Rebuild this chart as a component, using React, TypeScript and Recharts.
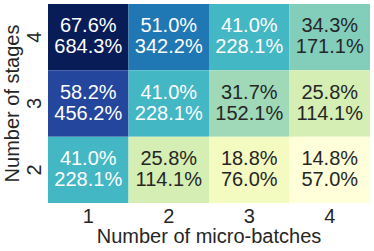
import { ReferenceArea, Scatter, ScatterChart, XAxis, YAxis } from "recharts";

// axes
const microBatches = [1, 2, 3, 4];
const stages = [4, 3, 2];

// rows follow `stages`, columns follow `microBatches`
const topValues = [
  [67.6, 51.0, 41.0, 34.3],
  [58.2, 41.0, 31.7, 25.8],
  [41.0, 25.8, 18.8, 14.8],
];
const bottomValues = [
  [684.3, 342.2, 228.1, 171.1],
  [456.2, 228.1, 152.1, 114.1],
  [228.1, 114.1, 76.0, 57.0],
];

// YlGnBu
const PALETTE = ["#ffffd9", "#edf8b1", "#c7e9b4", "#7fcdbb", "#41b6c4", "#1d91c0", "#225ea8", "#253494", "#081d58"];
const TEXT_DARK = "#262626";
const FONT = "'Liberation Sans', Arial, sans-serif";

function hexToRgb(h: string) {
  const n = parseInt(h.slice(1), 16);
  return [(n >> 16) & 255, (n >> 8) & 255, n & 255];
}

function colorFor(v: number, min: number, max: number) {
  const t = Math.max(0, Math.min(1, (v - min) / (max - min)));
  const pos = t * (PALETTE.length - 1);
  const i = Math.min(Math.floor(pos), PALETTE.length - 2);
  const f = pos - i;
  const a = hexToRgb(PALETTE[i]);
  const b = hexToRgb(PALETTE[i + 1]);
  const c = a.map((x, k) => Math.round(x + (b[k] - x) * f));
  const lum = (0.299 * c[0] + 0.587 * c[1] + 0.114 * c[2]) / 255;
  return { fill: `rgb(${c[0]},${c[1]},${c[2]})`, text: lum < 0.6 ? "#ffffff" : TEXT_DARK };
}

const allTop = topValues.flat();
const vmin = Math.min(...allTop);
const vmax = Math.max(...allTop);

const cells = stages.flatMap((s, r) =>
  microBatches.map((m, c) => {
    const col = colorFor(topValues[r][c], vmin, vmax);
    return {
      x: m,
      y: s,
      top: topValues[r][c],
      bottom: bottomValues[r][c],
      fill: col.fill,
      textColor: col.text,
    };
  })
);

const CellText = (props: any) => {
  const { cx, cy, payload } = props;
  return (
    <g>
      <text x={cx} y={cy - 5} textAnchor="middle" fontSize={20} fontFamily={FONT} fill={payload.textColor}>
        {payload.top.toFixed(1)}%
      </text>
      <text x={cx} y={cy + 16} textAnchor="middle" fontSize={20} fontFamily={FONT} fill={payload.textColor}>
        {payload.bottom.toFixed(1)}%
      </text>
    </g>
  );
};

const XTick = (props: any) => {
  const { x, y, payload } = props;
  return (
    <text x={x} y={y + 20} textAnchor="middle" fontSize={20} fontFamily={FONT} fill={TEXT_DARK}>
      {payload.value}
    </text>
  );
};

const YTick = (props: any) => {
  const { x, y, payload } = props;
  const bx = x - 7;
  return (
    <text x={bx} y={y} transform={`rotate(-90, ${bx}, ${y})`} textAnchor="middle" fontSize={20} fontFamily={FONT} fill={TEXT_DARK}>
      {payload.value}
    </text>
  );
};

const YTitle = (props: any) => {
  const { viewBox } = props;
  const bx = viewBox.x + 19;
  const cy = viewBox.y + viewBox.height / 2;
  return (
    <text x={bx} y={cy} transform={`rotate(-90, ${bx}, ${cy})`} textAnchor="middle" fontSize={20} fontFamily={FONT} fill={TEXT_DARK}>
      Number of stages
    </text>
  );
};

export default function App() {
  return (
    <div style={{ position: "absolute", left: 0, top: 0, background: "#fff" }}>
      <ScatterChart width={374} height={251} margin={{ top: 4, right: 4, left: 0, bottom: 0 }}>
        <XAxis
          dataKey="x"
          type="number"
          domain={[0.5, 4.5]}
          ticks={microBatches}
          interval={0}
          height={48}
          tickLine={false}
          axisLine={false}
          tickSize={0}
          tickMargin={0}
          tick={<XTick />}
          label={{ value: "Number of micro-batches", position: "insideBottom", offset: 8, fill: TEXT_DARK, fontSize: 20, fontFamily: FONT }}
        />
        <YAxis
          dataKey="y"
          type="number"
          domain={[1.5, 4.5]}
          ticks={stages}
          interval={0}
          width={48}
          tickLine={false}
          axisLine={false}
          tickSize={0}
          tickMargin={0}
          tick={<YTick />}
          label={(p: any) => <YTitle {...p} />}
        />
        {cells.map((c) => (
          <ReferenceArea
            key={`${c.x}-${c.y}`}
            x1={c.x - 0.5}
            x2={c.x + 0.5}
            y1={c.y - 0.5}
            y2={c.y + 0.5}
            fill={c.fill}
            fillOpacity={1}
            stroke="none"
            ifOverflow="visible"
          />
        ))}
        <Scatter data={cells} shape={<CellText />} isAnimationActive={false} />
      </ScatterChart>
    </div>
  );
}
